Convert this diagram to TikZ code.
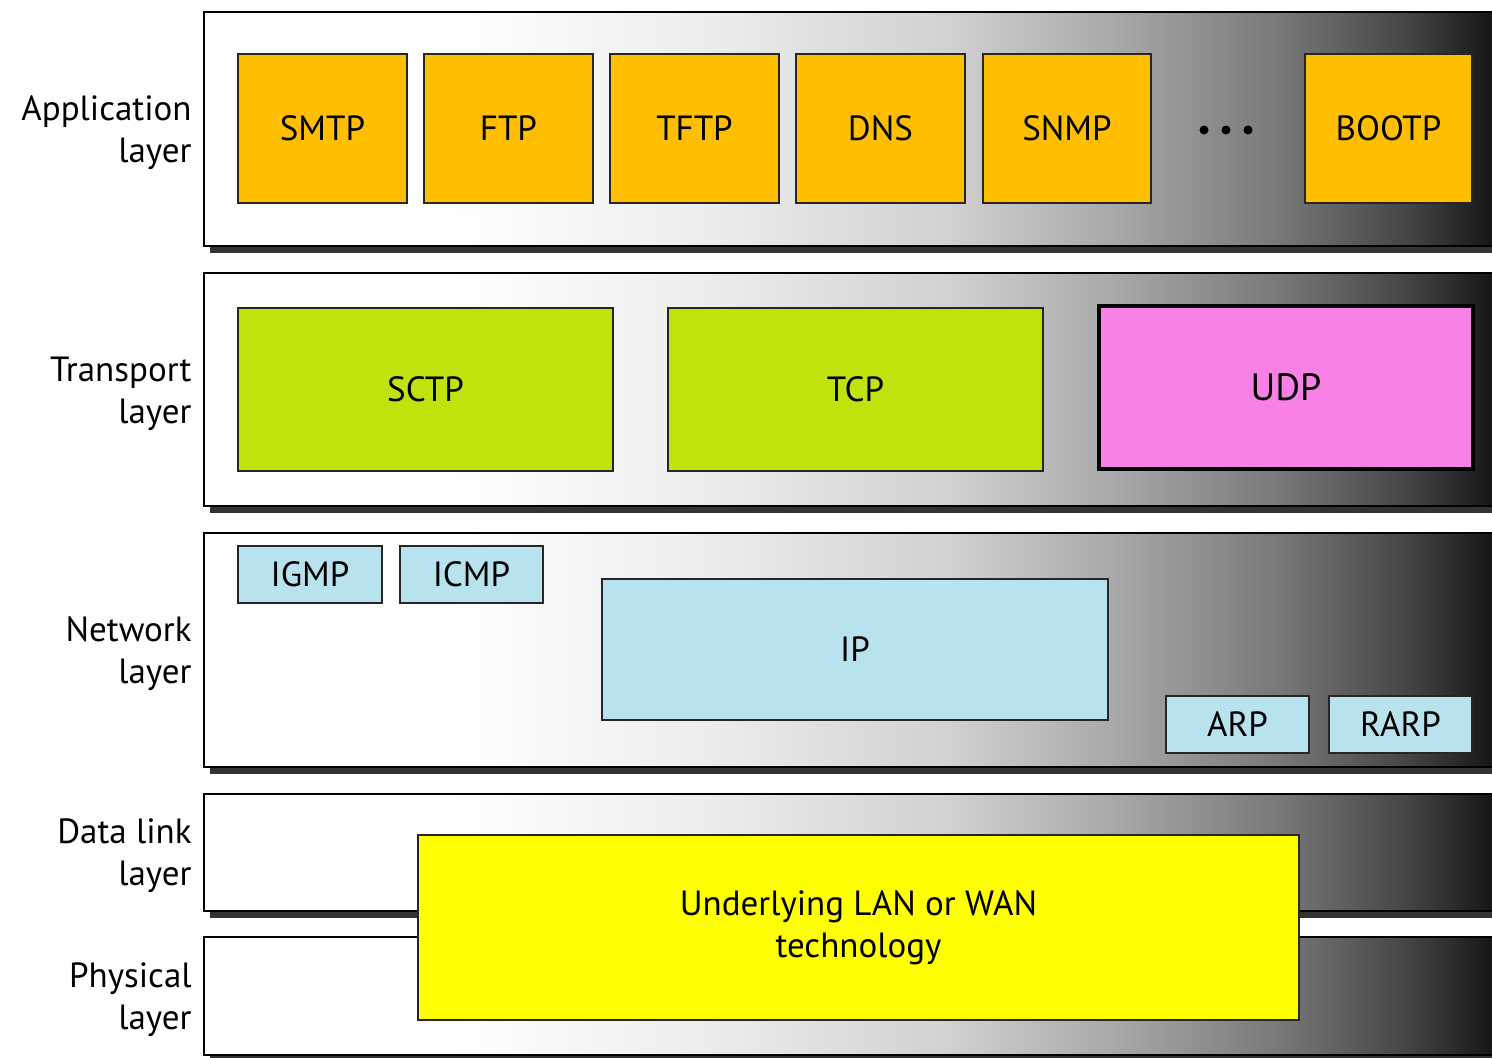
\documentclass[tikz,border=0pt]{standalone}
\usepackage{fontspec}
\setmainfont{PT Sans}
\usetikzlibrary{fit}
\definecolor{apporange}{HTML}{FFBF00}
\definecolor{trgreen}{HTML}{C2E20E}
\definecolor{udppink}{HTML}{F980E4}
\definecolor{netblue}{HTML}{B8E2EE}
\definecolor{llyellow}{HTML}{FFFF00}
\definecolor{shadowc}{HTML}{333333}
\pgfdeclarehorizontalshading{bandshade}{100bp}{color(0bp)=(white); color(25bp)=(white); color(34.5bp)=(white); color(44.25bp)=(black!7); color(53.7bp)=(black!18); color(60.15bp)=(black!34); color(66.5bp)=(black!53); color(71.45bp)=(black!73); color(75bp)=(black!93); color(100bp)=(black!93)}
\tikzset{
  band/.style={draw=black, line width=1.4pt, shading=bandshade, inner sep=0pt},
  bandshadow/.style={fill=shadowc},
  proto/.style={draw=black!85, line width=1.1pt, inner sep=0pt},
  ptext/.style={inner sep=0pt, align=center, font=\fontsize{17.5}{21}\selectfont},
  layerlabel/.style={anchor=east, align=right, inner sep=0pt, font=\fontsize{17.5}{21}\selectfont},
}
\begin{document}
\begin{tikzpicture}[x=0.5pt, y=-0.5pt]
\clip (0,0) rectangle (1492,1058);
\fill[white] (0,0) rectangle (1492,1058);
% shadows
\fill[bandshadow] (210,19) rectangle (1500,253);
\fill[bandshadow] (210,280) rectangle (1500,513);
\fill[bandshadow] (210,540) rectangle (1500,774);
\fill[bandshadow] (210,801) rectangle (1500,918);
\fill[bandshadow] (210,944) rectangle (1500,1062);
% bands
\node[band, fit={(204,12) (1500,246)}] (appband) {};
\node[band, fit={(204,273) (1500,506)}] (trband) {};
\node[band, fit={(204,533) (1500,767)}] (netband) {};
\node[band, fit={(204,794) (1500,911)}] (dlband) {};
\node[band, fit={(204,937) (1500,1055)}] (phband) {};
% layer labels
\node[layerlabel] (applbl) at (192,133) {Application\\layer};
\node[layerlabel] (trlbl) at (192,394) {Transport\\layer};
\node[layerlabel] (netlbl) at (192,654) {Network\\layer};
\node[layerlabel] (dllbl) at (192,856) {Data link\\layer};
\node[layerlabel] (phlbl) at (192,1000) {Physical\\layer};
% application protocols
\node[proto, fill=apporange, fit={(238,54) (407,203)}] (smtp) {};
\node[proto, fill=apporange, fit={(424,54) (593,203)}] (ftp) {};
\node[proto, fill=apporange, fit={(610,54) (779,203)}] (tftp) {};
\node[proto, fill=apporange, fit={(796,54) (965,203)}] (dns) {};
\node[proto, fill=apporange, fit={(983,54) (1151,203)}] (snmp) {};
\node[proto, fill=apporange, fit={(1305,54) (1472,203)}] (bootp) {};
\node[ptext] (smtpt) at (smtp) {SMTP};
\node[ptext] (ftpt) at (ftp) {FTP};
\node[ptext] (tftpt) at (tftp) {TFTP};
\node[ptext] (dnst) at (dns) {DNS};
\node[ptext] (snmpt) at (snmp) {SNMP};
\node[ptext] (bootpt) at (bootp) {BOOTP};
\fill[black] (1204,130) circle (4.5) (1226,130) circle (4.5) (1248,130) circle (4.5);
% transport protocols
\node[proto, fill=trgreen, fit={(238,308) (613,471)}] (sctp) {};
\node[proto, fill=trgreen, fit={(668,308) (1043,471)}] (tcp) {};
\node[proto, fill=udppink, line width=2.4pt, draw=black, fit={(1099,306) (1473,469)}] (udp) {};
\node[ptext] (sctpt) at (sctp) {SCTP};
\node[ptext] (tcpt) at (tcp) {TCP};
\node[ptext, font=\fontsize{19}{22}\selectfont] (udpt) at (udp) {UDP};
% network protocols
\node[proto, fill=netblue, fit={(238,546) (382,603)}] (igmp) {};
\node[proto, fill=netblue, fit={(400,546) (543,603)}] (icmp) {};
\node[proto, fill=netblue, fit={(602,579) (1108,720)}] (ip) {};
\node[proto, fill=netblue, fit={(1166,696) (1309,753)}] (arp) {};
\node[proto, fill=netblue, fit={(1329,696) (1472,753)}] (rarp) {};
\node[ptext] (igmpt) at (igmp) {IGMP};
\node[ptext] (icmpt) at (icmp) {ICMP};
\node[ptext] (ipt) at (ip) {IP};
\node[ptext] (arpt) at (arp) {ARP};
\node[ptext] (rarpt) at (rarp) {RARP};
% underlying technology
\node[proto, fill=llyellow, fit={(418,835) (1299,1020)}] (lanwan) {};
\node[ptext] (lanwant) at (lanwan) {Underlying LAN or WAN\\technology};
\end{tikzpicture}
\end{document}
